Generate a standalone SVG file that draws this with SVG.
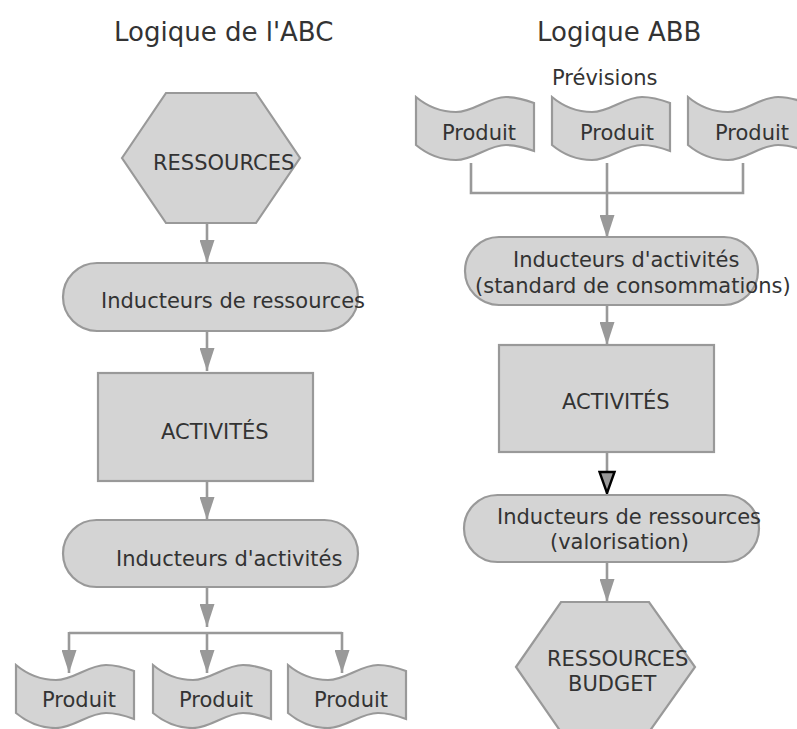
<svg xmlns="http://www.w3.org/2000/svg" width="797" height="729" viewBox="0 0 797 729">
<defs>
<style>
.shape{fill:#d4d4d4;stroke:#999999;stroke-width:2.2}
.t{font-family:"DejaVu Sans","Liberation Sans",sans-serif;font-size:21px;fill:#333333}
.title{font-family:"DejaVu Sans","Liberation Sans",sans-serif;font-size:26px;fill:#333333}
.conn{fill:none;stroke:#999999;stroke-width:2.6}
</style>
<marker id="ah" viewBox="0 0 23 15" refX="23" refY="7.5" markerWidth="23" markerHeight="15" markerUnits="userSpaceOnUse" orient="auto">
<path d="M0,0 L23,7.5 L0,15 Z" fill="#999999"/>
</marker>
<marker id="ahb" viewBox="-2 -2 25 19" refX="22" refY="7.5" markerWidth="25" markerHeight="19" markerUnits="userSpaceOnUse" orient="auto">
<path d="M0,0 L21,7.5 L0,15 Z" fill="#999999" stroke="#000000" stroke-width="2.4" stroke-linejoin="miter"/>
</marker>
<path id="tape" d="M0,0 C12,10 26,15 40,15 C58,15 72,0 90,0 C102,0 110,3 118,6 L118,54 C110,51 102,48 90,48 C72,48 58,63 40,63 C26,63 12,58 0,48 Z"/>
</defs>

<g id="titles">
<text class="title" x="114" y="41">Logique de l'ABC</text>
<text class="title" x="537" y="41">Logique ABB</text>
<text class="t" x="552" y="85">Prévisions</text>
</g>

<g id="connectors">
<line class="conn" x1="207" y1="223" x2="207" y2="263" marker-end="url(#ah)"/>
<line class="conn" x1="207" y1="331" x2="207" y2="371" marker-end="url(#ah)"/>
<line class="conn" x1="207" y1="481" x2="207" y2="520" marker-end="url(#ah)"/>
<line class="conn" x1="207" y1="587" x2="207" y2="627" marker-end="url(#ah)"/>
<line class="conn" x1="69" y1="633" x2="342" y2="633"/>
<line class="conn" x1="69" y1="632" x2="69" y2="673" marker-end="url(#ah)"/>
<line class="conn" x1="207" y1="633" x2="207" y2="673" marker-end="url(#ah)"/>
<line class="conn" x1="342" y1="632" x2="342" y2="673" marker-end="url(#ah)"/>
<polyline class="conn" points="471,163 471,193 743,193 743,163"/>
<line class="conn" x1="607" y1="163" x2="607" y2="238" marker-end="url(#ah)"/>
<line class="conn" x1="607" y1="305" x2="607" y2="345" marker-end="url(#ah)"/>
<line class="conn" x1="607" y1="452" x2="607" y2="494" marker-end="url(#ahb)"/>
<line class="conn" x1="607" y1="562" x2="607" y2="602" marker-end="url(#ah)"/>
</g>

<g id="abc-ressources">
<polygon class="shape" points="122,158 166,93 256,93 300,158 256,223 166,223"/>
<text class="t" x="153" y="170">RESSOURCES</text>
</g>
<g id="abc-inducteurs-ressources">
<rect class="shape" x="63" y="263" width="295" height="68" rx="34"/>
<text class="t" x="101" y="308">Inducteurs de ressources</text>
</g>
<g id="abc-activites">
<rect class="shape" x="98" y="373" width="215" height="108"/>
<text class="t" x="161" y="439">ACTIVITÉS</text>
</g>
<g id="abc-inducteurs-activites">
<rect class="shape" x="63" y="520" width="295" height="67" rx="33.5"/>
<text class="t" x="116" y="566">Inducteurs d'activités</text>
</g>
<g id="abc-produit-1">
<use href="#tape" class="shape" transform="translate(16,665)"/>
<text class="t" x="42" y="707">Produit</text>
</g>
<g id="abc-produit-2">
<use href="#tape" class="shape" transform="translate(153,665)"/>
<text class="t" x="179" y="707">Produit</text>
</g>
<g id="abc-produit-3">
<use href="#tape" class="shape" transform="translate(288,665)"/>
<text class="t" x="314" y="707">Produit</text>
</g>

<g id="abb-produit-1">
<use href="#tape" class="shape" transform="translate(416,97)"/>
<text class="t" x="442" y="140">Produit</text>
</g>
<g id="abb-produit-2">
<use href="#tape" class="shape" transform="translate(552,97)"/>
<text class="t" x="580" y="140">Produit</text>
</g>
<g id="abb-produit-3">
<use href="#tape" class="shape" transform="translate(688,97)"/>
<text class="t" x="715" y="140">Produit</text>
</g>
<g id="abb-inducteurs-activites">
<rect class="shape" x="465" y="237" width="293" height="68" rx="34"/>
<text class="t" x="513" y="267">Inducteurs d'activités</text>
<text class="t" x="475" y="293">(standard de consommations)</text>
</g>
<g id="abb-activites">
<rect class="shape" x="499" y="345" width="215" height="107"/>
<text class="t" x="562" y="409">ACTIVITÉS</text>
</g>
<g id="abb-inducteurs-ressources">
<rect class="shape" x="464" y="495" width="295" height="67" rx="33.5"/>
<text class="t" x="497" y="524">Inducteurs de ressources</text>
<text class="t" x="550" y="549">(valorisation)</text>
</g>
<g id="abb-ressources-budget">
<polygon class="shape" points="516,667 561,602 649,602 695,667 649,732 561,732"/>
<text class="t" x="547" y="666">RESSOURCES</text>
<text class="t" x="568" y="691">BUDGET</text>
</g>
</svg>
